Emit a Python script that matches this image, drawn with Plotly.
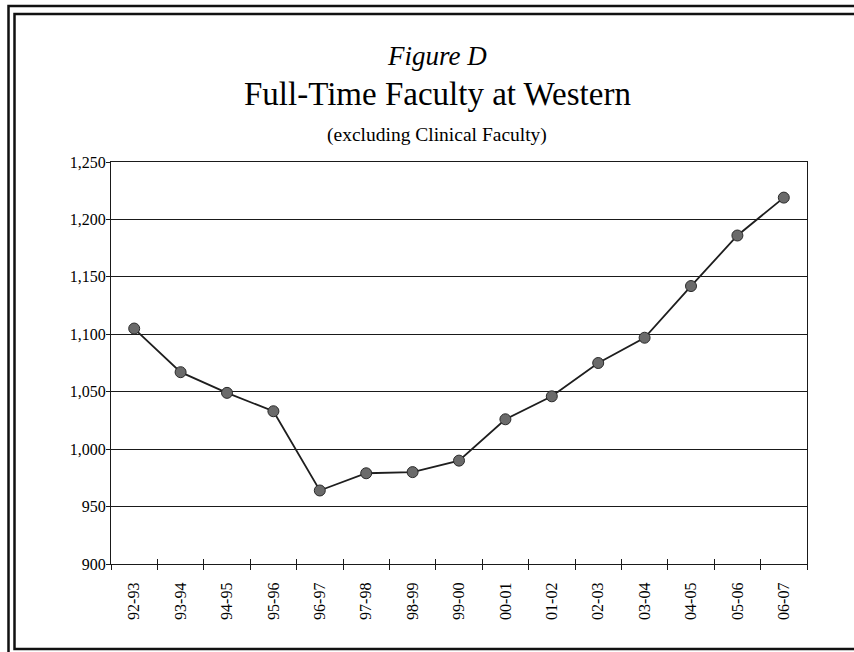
import plotly.graph_objects as go

years = ["92-93", "93-94", "94-95", "95-96", "96-97", "97-98", "98-99", "99-00",
         "00-01", "01-02", "02-03", "03-04", "04-05", "05-06", "06-07"]
faculty = [1105, 1067, 1049, 1033, 964, 979, 980, 990,
           1026, 1046, 1075, 1097, 1142, 1186, 1219]
y_ticks = [900, 950, 1000, 1050, 1100, 1150, 1200, 1250]

W, H = 854, 652
L, R, T, B = 111, 47, 162, 88
PW, PH = W - L - R, H - T - B

def px(x):
    return (x - L) / PW

def py(y):
    return (H - B - y) / PH

FONT = "Liberation Serif, Times New Roman, serif"
INK = "#1a1a1a"

fig = go.Figure()
fig.add_trace(go.Scatter(
    x=years, y=faculty, mode="lines+markers",
    line=dict(color="#1e1e1e", width=1.8),
    marker=dict(size=11, color="#6a6a6a", line=dict(color="#2a2a2a", width=1)),
    showlegend=False, hoverinfo="x+y",
))
# helper trace to activate the overlay axis used for crossing tick marks
fig.add_trace(go.Scatter(x=[None], y=[None], xaxis="x2", showlegend=False, hoverinfo="skip"))

fig.update_layout(
    width=W, height=H,
    margin=dict(l=L, r=R, t=T, b=B, pad=0),
    paper_bgcolor="white", plot_bgcolor="white",
    font=dict(family=FONT, color="black", size=16),
    xaxis=dict(
        type="category", categoryorder="array", categoryarray=years,
        range=[-0.5, len(years) - 0.5],
        showgrid=False, zeroline=False,
        showline=True, linecolor=INK, linewidth=1.3, mirror=True,
        ticks="outside", tickson="boundaries", ticklen=5, tickcolor=INK, tickwidth=1.3,
        tickangle=-90, ticklabelstandoff=11,
        tickfont=dict(family=FONT, size=16, color="black"),
    ),
    xaxis2=dict(
        overlaying="x", range=[-0.5, len(years) - 0.5],
        tickvals=[i + 0.5 for i in range(len(years) - 1)],
        ticks="inside", ticklen=5, tickcolor=INK, tickwidth=1.3,
        showticklabels=False, showgrid=False, zeroline=False, showline=False,
    ),
    yaxis=dict(
        range=[900, 1250], tickvals=y_ticks, tickformat=",",
        showgrid=True, gridcolor=INK, gridwidth=1.3, zeroline=False,
        showline=True, linecolor=INK, linewidth=1.3, mirror=True,
        ticks="outside", ticklen=4, tickcolor=INK, tickwidth=1.3,
        ticklabelstandoff=-3,
        tickfont=dict(family=FONT, size=16, color="black"),
    ),
)

cx = px(437)
fig.add_annotation(text="<i>Figure D</i>", x=cx, y=py(56), xref="paper", yref="paper",
                   showarrow=False, xanchor="center", yanchor="middle",
                   font=dict(family=FONT, size=27, color="black"))
fig.add_annotation(text="Full-Time Faculty at Western", x=cx, y=py(94), xref="paper", yref="paper",
                   showarrow=False, xanchor="center", yanchor="middle",
                   font=dict(family=FONT, size=33, color="black"))
fig.add_annotation(text="(excluding Clinical Faculty)", x=cx, y=py(135), xref="paper", yref="paper",
                   showarrow=False, xanchor="center", yanchor="middle",
                   font=dict(family=FONT, size=19.5, color="black"))

# double frame border
fig.add_shape(type="rect", xref="paper", yref="paper",
              x0=px(8.5), x1=px(900), y0=py(700), y1=py(6),
              line=dict(color="#111", width=2.5), fillcolor="rgba(0,0,0,0)", layer="below")
fig.add_shape(type="rect", xref="paper", yref="paper",
              x0=px(14.5), x1=px(890), y0=py(649), y1=py(14),
              line=dict(color="#111", width=2.5), fillcolor="rgba(0,0,0,0)", layer="below")

fig.write_html("out.html", config={"displayModeBar": False},
               post_script="document.body.style.margin='0';document.body.style.overflow='hidden';")
